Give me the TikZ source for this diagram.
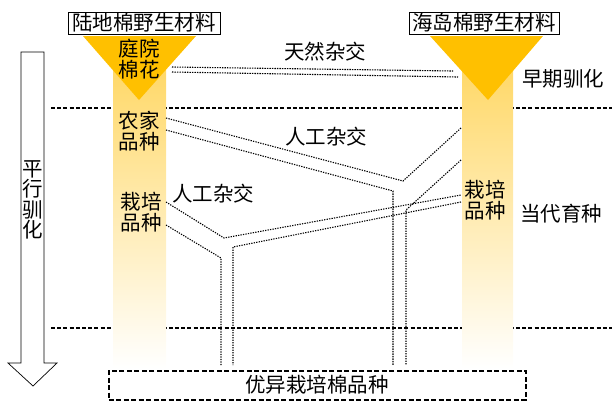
\documentclass[tikz,border=0pt]{standalone}
\usepackage{fontspec}
\newfontfamily\cjk{Noto Sans CJK SC}
\definecolor{gold}{HTML}{FFC000}
\definecolor{colY}{HTML}{FFD458}
\begin{document}
\begin{tikzpicture}[x=1pt,y=-1pt,
  lbl/.style={font=\cjk\fontsize{20.5}{21}\selectfont, inner sep=0pt, align=center},
  srcbox/.style={lbl, draw, line width=0.7pt, fill=white, minimum width=152pt, minimum height=22pt},
  dotl/.style={line width=1.1pt, dash pattern=on 1.3pt off 1.2pt},
  sepline/.style={line width=1.2pt, dash pattern=on 4pt off 2.2pt},
  colshade/.style={top color=colY, bottom color=white},
  tri/.style={fill=gold, draw=none},
  blockarrow/.style={draw, line width=0.7pt, fill=white},
  endbox/.style={lbl, draw, line width=2pt, dash pattern=on 5pt off 2.5pt, minimum width=417pt, minimum height=29pt}
  ]
\useasboundingbox (0,0) rectangle (612,402);
% separators
\draw[sepline] (51,108) -- (612,108);
\draw[sepline] (51,328) -- (612,328);
% columns
\shade[colshade] (113,36) rectangle (166,368);
\shade[colshade] (462,36) rectangle (513,368);
% triangles
\fill[tri] (83,36) -- (196,36) -- (139,100) -- cycle;
\fill[tri] (430,36) -- (543,36) -- (488,100) -- cycle;
% source boxes
\node[srcbox] (srcL) at (144,23) {陆地棉野生材料};
\node[srcbox, minimum width=150pt] (srcR) at (484,23) {海岛棉野生材料};
% left arrow
\draw[blockarrow] (21,52) -- (44,52) -- (44,363) -- (57,363) -- (33,386) -- (8,363) -- (21,363) -- cycle;
\node[lbl, font=\cjk\fontsize{20.5}{20.5}\selectfont] (pingxing) at (33,200) {平\\行\\驯\\化};
% labels
\node[lbl] (tingyuan) at (139,59) {庭院\\棉花};
\node[lbl] (nongjia) at (139,131) {农家\\品种};
\node[lbl] (zaipeiL) at (141,212) {栽培\\品种};
\node[lbl] (zaipeiR) at (485,200) {栽培\\品种};
\node[lbl] (tianran) at (325,52) {天然杂交};
\node[lbl] (rengong1) at (326,137) {人工杂交};
\node[lbl] (rengong2) at (213,194) {人工杂交};
\node[lbl] (zaoqi) at (563,79) {早期驯化};
\node[lbl] (dangdai) at (561,214) {当代育种};
\node[endbox] (youyi) at (317,385) {优异栽培棉品种};
% coordinates
\coordinate (t1s) at (172,67); \coordinate (t1e) at (453,71);
\coordinate (t2s) at (172,72); \coordinate (t2e) at (458,77);
\coordinate (n1s) at (166,118); \coordinate (j1) at (403,181); \coordinate (r1) at (461,128);
\coordinate (n2s) at (166,130); \coordinate (j2) at (393,191); \coordinate (b2) at (393,365);
\coordinate (r3) at (461,160); \coordinate (j3) at (406,210); \coordinate (b3) at (406,365);
\coordinate (z1s) at (166,202); \coordinate (j4) at (224,238); \coordinate (r4) at (461,195);
\coordinate (z2s) at (166,225); \coordinate (j5) at (221,258); \coordinate (b5) at (221,365);
\coordinate (r6) at (461,202); \coordinate (j6) at (233,247); \coordinate (b6) at (233,365);
% dotted connectors
\draw[dotl] (t1s) -- (t1e);
\draw[dotl] (t2s) -- (t2e);
\draw[dotl] (n1s) -- (j1) -- (r1);
\draw[dotl] (n2s) -- (j2) -- (b2);
\draw[dotl] (r3) -- (j3) -- (b3);
\draw[dotl] (z1s) -- (j4) -- (r4);
\draw[dotl] (z2s) -- (j5) -- (b5);
\draw[dotl] (r6) -- (j6) -- (b6);
\end{tikzpicture}
\end{document}
